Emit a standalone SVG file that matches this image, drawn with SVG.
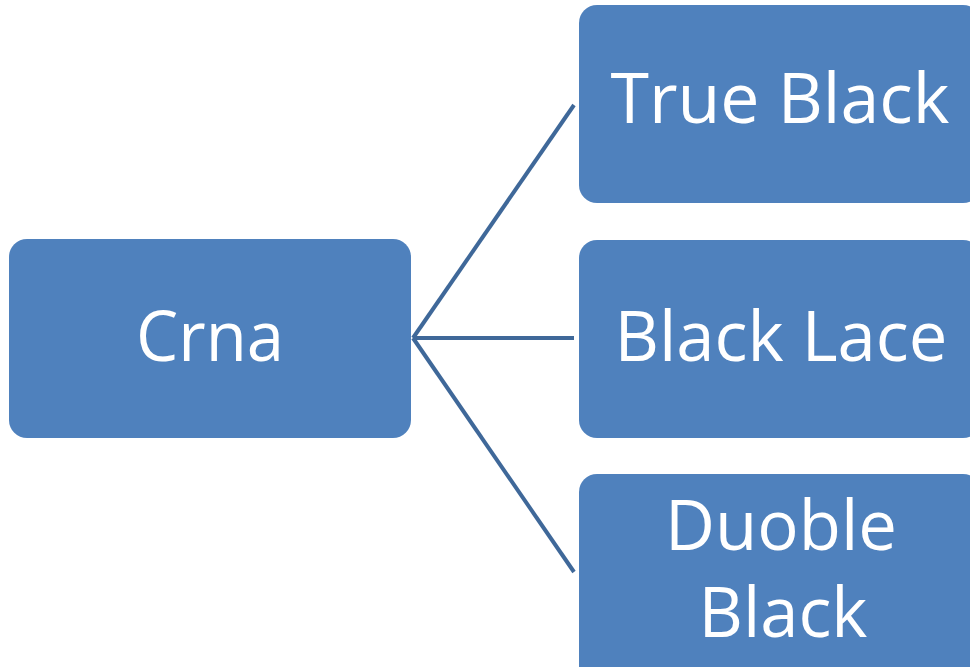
<svg xmlns="http://www.w3.org/2000/svg" width="970" height="667" viewBox="0 0 970 667">
<style>
.box{fill:#4f81bd;}
.lbl{font-family:"Open Sans","Liberation Sans",sans-serif;font-size:70px;fill:#ffffff;text-anchor:middle;}
.conn{stroke:#3f6899;stroke-width:4;fill:none;}
</style>
<rect width="970" height="667" fill="#ffffff"/>
<g id="connectors">
<line class="conn" x1="413" y1="338" x2="574" y2="105"/>
<line class="conn" x1="413" y1="338" x2="574" y2="338"/>
<line class="conn" x1="413" y1="338" x2="574" y2="572"/>
</g>
<g id="node-crna">
<rect class="box" x="9" y="239" width="402" height="199" rx="18"/>
<text class="lbl" x="210" y="361" textLength="148" lengthAdjust="spacingAndGlyphs">Crna</text>
</g>
<g id="node-true-black">
<rect class="box" x="579" y="5" width="402" height="198" rx="18"/>
<text class="lbl" x="780" y="123" textLength="339" lengthAdjust="spacingAndGlyphs">True Black</text>
</g>
<g id="node-black-lace">
<rect class="box" x="579" y="240" width="402" height="198" rx="18"/>
<text class="lbl" x="781" y="361" textLength="333" lengthAdjust="spacingAndGlyphs">Black Lace</text>
</g>
<g id="node-duoble-black">
<rect class="box" x="579" y="474" width="402" height="220" rx="18"/>
<text class="lbl" x="781" y="550" textLength="232" lengthAdjust="spacingAndGlyphs">Duoble</text>
<text class="lbl" x="783" y="637" textLength="169" lengthAdjust="spacingAndGlyphs">Black</text>
</g>
</svg>
